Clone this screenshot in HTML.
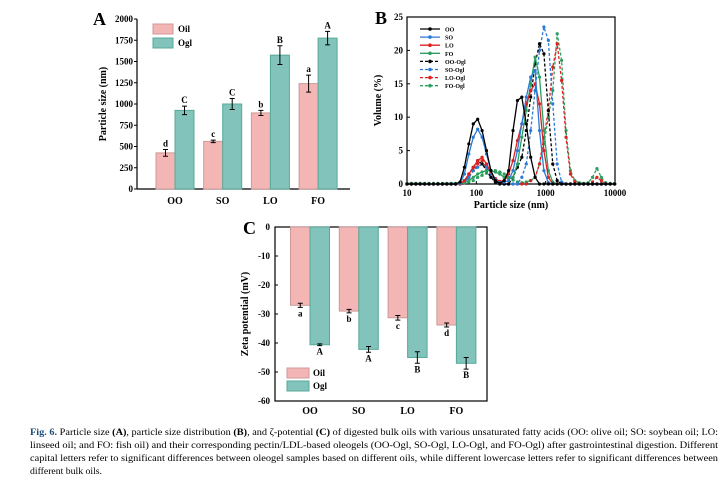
<!DOCTYPE html>
<html><head><meta charset="utf-8"><style>
html,body{margin:0;padding:0;background:#fff}
svg{display:block}
text{font-family:"Liberation Serif",serif;fill:#000}
.t{font-size:9px;font-weight:bold}
.ttl{font-size:10px;font-weight:bold}
.pl{font-size:18px;font-weight:bold}
.cap{font-size:9.3px}
</style></head><body>
<svg id="fig" width="728" height="484" viewBox="0 0 728 484">
<g id="A"></g>
<g id="B"></g>
<g id="C"></g>
<g>
<text class="cap" x="30" y="435" textLength="688" lengthAdjust="spacingAndGlyphs"><tspan font-weight="bold" fill="#1a4a7a">Fig. 6.</tspan>  Particle size <tspan font-weight="bold">(A)</tspan>, particle size distribution <tspan font-weight="bold">(B)</tspan>, and ζ-potential <tspan font-weight="bold">(C)</tspan> of digested bulk oils with various unsaturated fatty acids (OO: olive oil; SO: soybean oil; LO:</text>
<text class="cap" x="30" y="448" textLength="688" lengthAdjust="spacingAndGlyphs">linseed oil; and FO: fish oil) and their corresponding pectin/LDL-based oleogels (OO-Ogl, SO-Ogl, LO-Ogl, and FO-Ogl) after gastrointestinal digestion. Different</text>
<text class="cap" x="30" y="461" textLength="688" lengthAdjust="spacingAndGlyphs">capital letters refer to significant differences between oleogel samples based on different oils, while different lowercase letters refer to significant differences between</text>
<text class="cap" x="30" y="474" textLength="72" lengthAdjust="spacingAndGlyphs">different bulk oils.</text>
</g>
</svg>
<script>
// ---- Panel A data ----
const catsA = ["OO","SO","LO","FO"];
const oilA = [425,560,895,1240];
const oglA = [925,1000,1575,1775];
const oilErrA = [40,15,30,100];
const oglErrA = [50,65,110,80];
const oilLetA = ["d","c","b","a"];
const oglLetA = ["C","C","B","A"];
const ticksA = [0,250,500,750,1000,1250,1500,1750,2000];
// ---- Panel B data ----
const sizesB = [10.0,11.6,13.4,15.5,18.0,20.8,24.1,27.9,32.4,37.5,43.4,50.2,58.2,67.3,78.0,90.3,104.6,121.1,140.2,162.4,188.0,217.7,252.1,292.0,338.1,391.5,453.4,525.0,608.0,704.0,815.3,944.1,1093,1266,1466,1698,1966,2277,2636,3053,3535,4094,4741,5490,6357,7362,8525,9872];
const namesB = ["OO","SO","LO","FO","OO-Ogl","SO-Ogl","LO-Ogl","FO-Ogl"];
const ooB   = [0,0,0,0,0,0,0,0,0,0,0,0,0.3,2.5,6,9,9.7,8,5,2,0.5,0.1,0.5,2,8,12.5,13,9,4,1,0,0,0,0,0,0,0,0,0,0,0,0,0,0,0,0,0,0];
const soB   = [0,0,0,0,0,0,0,0,0,0,0,0,0.1,1.5,4.5,7,8.2,7,4.5,2,0.6,0.2,0.3,0.5,2,5,9,13,16,17,8,2,0.2,0,0,0,0,0,0,0,0,0,0,0,0,0,0,0];
const loB   = [0,0,0,0,0,0,0,0,0,0,0,0,0,0.5,1.5,2.5,3.5,4,3,1.8,0.8,0.4,0.5,1.5,3.5,6.5,9,12,14,15,12,5,1,0,0,0,0,0,0,0,0,0,0,0,0,0,0,0];
const foB   = [0,0,0,0,0,0,0,0,0,0,0,0,0,0.2,0.5,1,1.5,1.8,2,2,1.8,1.5,1,0.8,1,3,7,11,15,19,16,8,2,0.3,0,0,0,0,0,0,0,0,0,0,0,0,0,0];
const ooOgB = [0,0,0,0,0,0,0,0,0,0,0,0,0,0.5,1.5,2.5,3.5,3,2,1,0.3,0,0,0,1,2.5,4,8,13,18,21,19.5,11,3,0.5,0,0,0,0,0,0,0,0,0,0,0,0,0];
const soOgB = [0,0,0,0,0,0,0,0,0,0,0,0,0,0.3,1,2,2.5,3,2.5,1.5,0.5,0,0,0,0,0,1,3,8,14,20,23.5,21.5,12,3,0.3,0,0,0,0,0,0,0,0,0,0,0,0];
const loOgB = [0,0,0,0,0,0,0,0,0,0,0,0,0,0.3,1,2,3,3.5,2.5,1.5,0.8,0.3,0,0,0,0,0,0,0.5,1,3,7,11,17.5,21,15.5,7,1.5,0.3,0,0,0,0.3,1,0.5,0,0,0];
const foOgB = [0.1,0.1,0.1,0.1,0.1,0.1,0.1,0.1,0.1,0.1,0.1,0.1,0.1,0.2,0.3,0.5,1,1.3,1.6,1.8,2,1.8,1.5,1,0.6,0.3,0.2,0.3,0.5,1,3,6,10,14,22.5,18.5,8,2,0.5,0.2,0.1,0.2,1,2.3,1,0.2,0.1,0.1];
const ticksBx = [10,100,1000,10000];
const ticksBy = [0,5,10,15,20,25];
// ---- Panel C data ----
const catsC = ["OO","SO","LO","FO"];
const oilC = [-27,-29,-31.3,-33.8];
const oglC = [-40.6,-42.2,-45,-47];
const oilErrC = [0.7,0.6,0.8,0.7];
const oglErrC = [0.3,1,2,2];
const oilLetC = ["a","b","c","d"];
const oglLetC = ["A","A","B","B"];
const ticksC = [0,-10,-20,-30,-40,-50,-60];

const NS="http://www.w3.org/2000/svg";
const PINK="#f4b6b4", TEAL="#82c3bc";
function mk(parent,tag,attrs,txt){const e=document.createElementNS(NS,tag);for(const k in attrs)e.setAttribute(k,attrs[k]);if(txt!==undefined)e.textContent=txt;parent.appendChild(e);return e;}

// ===== Panel A =====
(function(){
const g=document.getElementById('A');
const L=137,R=350,T=19,Bt=189;
const y=v=>Bt-(v/2000)*(Bt-T);
const cx=i=>175+i*47.7;
const bw=19;
let e;
e=mk(g,'text',{class:'pl',x:93,y:25},'A');


e=mk(g,'line',{x1:L,y1:T,x2:L,y2:Bt,stroke:'#000','stroke-width':1.2});


e=mk(g,'line',{x1:L,y1:Bt,x2:R,y2:Bt,stroke:'#000','stroke-width':1.2});


ticksA.forEach(t=>{
  mk(g,'line',{x1:L-3,y1:y(t),x2:L,y2:y(t),stroke:'#000'});
  e=mk(g,'text',{class:'t',x:L-4,y:y(t)+3,'text-anchor':'end'},String(t));
  
  
});
e=mk(g,'text',{class:'ttl',transform:'translate(106,'+((T+Bt)/2)+') rotate(-90)','text-anchor':'middle'},'Particle size (nm)');


catsA.forEach((c,i)=>{
  const x0=cx(i);
  e=mk(g,'rect',{x:x0-bw,y:y(oilA[i]),width:bw,height:Bt-y(oilA[i]),fill:PINK,stroke:'#c99'});
  
  
  e=mk(g,'rect',{x:x0,y:y(oglA[i]),width:bw,height:Bt-y(oglA[i]),fill:TEAL,stroke:'#5a9'});
  
  
  [[x0-bw/2,oilA[i],oilErrA[i],oilLetA[i]],[x0+bw/2,oglA[i],oglErrA[i],oglLetA[i]]].forEach(([xc,v,er,lt])=>{
    mk(g,'path',{d:`M${xc},${y(v+er)}V${y(v-er)}M${xc-2.5},${y(v+er)}h5M${xc-2.5},${y(v-er)}h5`,stroke:'#000',fill:'none'});
    e=mk(g,'text',{class:'t',x:xc,y:y(v+er)-3,'text-anchor':'middle'},lt);
    
    
  });
  e=mk(g,'text',{class:'ttl',x:x0,y:204,'text-anchor':'middle'},c);
  
  
});
[['Oil',PINK,'#c99',24],['Ogl',TEAL,'#5a9',38]].forEach(([n,f,s,yy])=>{
  e=mk(g,'rect',{x:153,y:yy,width:20,height:10,fill:f,stroke:s});
  
  
  e=mk(g,'text',{class:'t',x:178,y:yy+8},n);
  
  
});
})();

// ===== Panel B =====
(function(){
const g=document.getElementById('B');
const L=407,R=615,T=17,Bt=184;
const x=s=>L+(Math.log10(s)-1)/3*(R-L);
const y=v=>Bt-(v/25)*(Bt-T);
let e;
e=mk(g,'text',{class:'pl',x:375,y:24},'B');


e=mk(g,'rect',{x:L,y:T,width:R-L,height:Bt-T,fill:'none',stroke:'#000','stroke-width':1.2});


ticksBy.forEach(t=>{
  mk(g,'line',{x1:L,y1:y(t),x2:L+3,y2:y(t),stroke:'#000'});
  e=mk(g,'text',{class:'t',x:L-4,y:y(t)+3,'text-anchor':'end'},String(t));
  
  
});
ticksBx.forEach(t=>{
  mk(g,'line',{x1:x(t),y1:Bt,x2:x(t),y2:Bt-3,stroke:'#000'});
  e=mk(g,'text',{class:'t',x:x(t),y:Bt+12,'text-anchor':'middle'},String(t));
  
  
});
e=mk(g,'text',{class:'ttl',x:(L+R)/2,y:208,'text-anchor':'middle'},'Particle size (nm)');


e=mk(g,'text',{class:'ttl',transform:'translate(381,'+((T+Bt)/2)+') rotate(-90)','text-anchor':'middle'},'Volume (%)');


const series=[ooB,soB,loB,foB,ooOgB,soOgB,loOgB,foOgB];
const cols=['#000','#2a7ad8','#e02020','#2aa060','#000','#2a7ad8','#e02020','#2aa060'];
const order=[7,6,5,4,3,2,1,0];
order.forEach(k=>{
  const vals=series[k];
  const dash=k>=4?'3,2':'none';
  const d=vals.map((v,i)=>(i?'L':'M')+x(sizesB[i]).toFixed(1)+','+y(v).toFixed(1)).join('');
  e=mk(g,'path',{d:d,fill:'none',stroke:cols[k],'stroke-width':1.3,'stroke-dasharray':dash});
  
  
  vals.forEach((v,i)=>{
    e=mk(g,'circle',{cx:x(sizesB[i]),cy:y(v),r:1.6,fill:cols[k]});
    
    
  });
});
namesB.forEach((n,k)=>{
  const yy=29+k*8.1;
  e=mk(g,'line',{x1:420,y1:yy,x2:440,y2:yy,stroke:cols[k],'stroke-width':1.3,'stroke-dasharray':k>=4?'3,2':'none'});
  
  
  mk(g,'circle',{cx:430,cy:yy,r:1.8,fill:cols[k]});
  e=mk(g,'text',{x:445,y:yy+2.5,'font-size':'6px','font-weight':'bold'},n);
  
  
});
})();

// ===== Panel C =====
(function(){
const g=document.getElementById('C');
const L=275,R=487,T=227,Bt=401;
const y=v=>T+(-v/60)*(Bt-T);
const cx=i=>310+i*48.8;
const bw=19.5;
let e;
e=mk(g,'text',{class:'pl',x:243,y:234},'C');


e=mk(g,'rect',{x:L,y:T,width:R-L,height:Bt-T,fill:'none',stroke:'#000','stroke-width':1.2});


ticksC.forEach(t=>{
  mk(g,'line',{x1:L,y1:y(t),x2:L+3,y2:y(t),stroke:'#000'});
  e=mk(g,'text',{class:'t',x:L-5,y:y(t)+3,'text-anchor':'end'},String(t));
  
  
});
e=mk(g,'text',{class:'ttl',transform:'translate(248,'+((T+Bt)/2)+') rotate(-90)','text-anchor':'middle'},'Zeta potential (mV)');


catsC.forEach((c,i)=>{
  const x0=cx(i);
  e=mk(g,'rect',{x:x0-bw,y:T,width:bw,height:y(oilC[i])-T,fill:PINK,stroke:'#c99'});
  
  
  e=mk(g,'rect',{x:x0,y:T,width:bw,height:y(oglC[i])-T,fill:TEAL,stroke:'#5a9'});
  
  
  [[x0-bw/2,oilC[i],oilErrC[i],oilLetC[i]],[x0+bw/2,oglC[i],oglErrC[i],oglLetC[i]]].forEach(([xc,v,er,lt])=>{
    mk(g,'path',{d:`M${xc},${y(v+er)}V${y(v-er)}M${xc-2.5},${y(v+er)}h5M${xc-2.5},${y(v-er)}h5`,stroke:'#000',fill:'none'});
    e=mk(g,'text',{class:'t',x:xc,y:y(v-er)+9,'text-anchor':'middle'},lt);
    
    
  });
  e=mk(g,'text',{class:'ttl',x:x0,y:414,'text-anchor':'middle'},c);
  
  
});
[['Oil',PINK,'#c99',368],['Ogl',TEAL,'#5a9',381]].forEach(([n,f,s,yy])=>{
  e=mk(g,'rect',{x:287,y:yy,width:22,height:10,fill:f,stroke:s});
  
  
  e=mk(g,'text',{class:'t',x:313,y:yy+8},n);
  
  
});
})();
</script>
</body></html>
